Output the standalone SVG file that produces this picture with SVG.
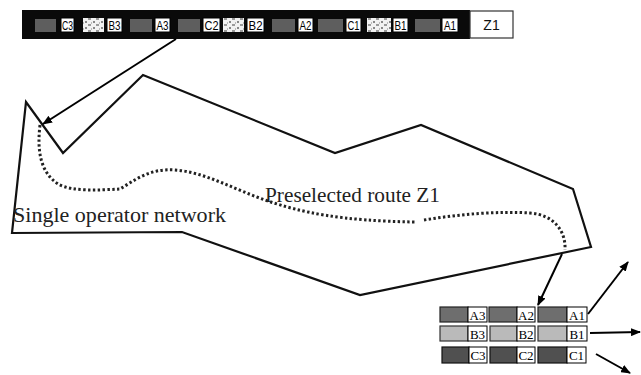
<svg xmlns="http://www.w3.org/2000/svg" width="641" height="375" viewBox="0 0 641 375">
<style>
.lbl{fill:#fff;stroke:#000;stroke-width:1}
.lt{font-family:"Liberation Sans",Arial,sans-serif;font-size:12px;fill:#000;text-anchor:middle}
.gl{font-family:"Liberation Serif","Times New Roman",serif;font-size:13px;fill:#000;text-anchor:middle}
.gb{fill:#5e5e5e}
.noise{fill:url(#spk)}
.ga{fill:#6e6e6e;stroke:#222;stroke-width:1.2}
.gbb{fill:#bababa;stroke:#333;stroke-width:1.2}
.gc{fill:#505050;stroke:#111;stroke-width:1.2}
.conn{stroke:#000;stroke-width:2;fill:none;marker-end:url(#ah)}
.serif{font-family:"Liberation Serif","Times New Roman",serif;fill:#222}
</style>
<defs>
<marker id="ah" markerWidth="10" markerHeight="8" refX="9" refY="4" orient="auto" markerUnits="userSpaceOnUse">
<path d="M0,0 L10,4 L0,8 Z" fill="#000"/>
</marker>
<pattern id="spk" width="8" height="6" patternUnits="userSpaceOnUse">
<rect width="8" height="6" fill="#f2f2f2"/>
<rect x="0" y="0" width="3" height="2" fill="#9a9a9a"/>
<rect x="5" y="3" width="2" height="2" fill="#888"/>
<rect x="3" y="4" width="1" height="2" fill="#bbb"/>
</pattern>
</defs>
<rect width="641" height="375" fill="#fff"/>

<g id="frame-bar">
<rect x="22" y="10" width="448" height="29" fill="#0a0a0a"/>
<rect class="gb" x="35" y="19" width="21" height="13"/>
<rect class="lbl" x="61" y="18" width="13" height="14"/><text class="lt" x="67.5" y="29.5" textLength="11" lengthAdjust="spacingAndGlyphs">C3</text>
<rect class="noise" x="83" y="18" width="21" height="14"/>
<rect class="lbl" x="107" y="18" width="15" height="14"/><text class="lt" x="114.5" y="29.5" textLength="12" lengthAdjust="spacingAndGlyphs">B3</text>
<rect class="gb" x="130" y="19" width="22" height="13"/>
<rect class="lbl" x="155" y="18" width="15" height="14"/><text class="lt" x="162.5" y="29.5" textLength="12" lengthAdjust="spacingAndGlyphs">A3</text>
<rect class="gb" x="178" y="19" width="22" height="13"/>
<rect class="lbl" x="203" y="18" width="17" height="14"/><text class="lt" x="211.5" y="29.5" textLength="14" lengthAdjust="spacingAndGlyphs">C2</text>
<rect class="noise" x="223" y="18" width="21" height="14"/>
<rect class="lbl" x="247" y="18" width="17" height="14"/><text class="lt" x="255.5" y="29.5" textLength="14" lengthAdjust="spacingAndGlyphs">B2</text>
<rect class="gb" x="272" y="19" width="23" height="13"/>
<rect class="lbl" x="298" y="18" width="15" height="14"/><text class="lt" x="305.5" y="29.5" textLength="12" lengthAdjust="spacingAndGlyphs">A2</text>
<rect class="gb" x="318" y="19" width="25" height="13"/>
<rect class="lbl" x="346" y="18" width="15" height="14"/><text class="lt" x="353.5" y="29.5" textLength="12" lengthAdjust="spacingAndGlyphs">C1</text>
<rect class="noise" x="367" y="18" width="24" height="14"/>
<rect class="lbl" x="393" y="18" width="15" height="14"/><text class="lt" x="400.5" y="29.5" textLength="12" lengthAdjust="spacingAndGlyphs">B1</text>
<rect class="gb" x="415" y="19" width="25" height="13"/>
<rect class="lbl" x="442" y="18" width="16" height="14"/><text class="lt" x="450" y="29.5" textLength="12" lengthAdjust="spacingAndGlyphs">A1</text>
</g>

<g id="z1-box">
<rect x="470" y="11" width="43" height="27" fill="#fff" stroke="#333" stroke-width="1.2"/>
<text x="491.5" y="30" font-family="'Liberation Sans',Arial,sans-serif" font-size="14" text-anchor="middle" fill="#111">Z1</text>
</g>

<g id="network">
<polygon points="26,102 63,153 143,75 335,153 421,125 573,189 591,247 360,295 182,232 12,233" fill="none" stroke="#111" stroke-width="2.2" stroke-linejoin="miter"/>
<text class="serif" x="13" y="222" font-size="22" textLength="213" lengthAdjust="spacingAndGlyphs">Single operator network</text>
</g>

<g id="route">
<path d="M40,125 C37,150 40,172 58,184 C72,192 100,190 120,189 C135,180 150,168 175,170 C205,172 235,190 268,201 C300,212 340,221 416,222 M424,220 C460,214 500,211 530,213 C555,215 566,232 565,250" fill="none" stroke="#222" stroke-width="3" stroke-dasharray="2.4 2.4"/>
<text class="serif" x="265" y="202" font-size="21" textLength="175" lengthAdjust="spacingAndGlyphs">Preselected route Z1</text>
</g>

<g id="slot-grid">
<rect class="ga" x="440" y="307" width="28" height="15"/><rect class="lbl" x="468" y="307" width="19" height="15"/><text class="gl" x="477.5" y="319.5">A3</text>
<rect class="ga" x="489" y="307" width="28" height="15"/><rect class="lbl" x="517" y="307" width="18" height="15"/><text class="gl" x="526" y="319.5">A2</text>
<rect class="ga" x="538" y="307" width="29" height="15"/><rect class="lbl" x="567" y="307" width="20" height="15"/><text class="gl" x="577" y="319.5">A1</text>
<rect class="gbb" x="440" y="326" width="28" height="15"/><rect class="lbl" x="468" y="326" width="19" height="15"/><text class="gl" x="477.5" y="338.5">B3</text>
<rect class="gbb" x="490" y="326" width="27" height="15"/><rect class="lbl" x="517" y="326" width="18" height="15"/><text class="gl" x="526" y="338.5">B2</text>
<rect class="gbb" x="538" y="326" width="29" height="15"/><rect class="lbl" x="567" y="326" width="20" height="15"/><text class="gl" x="577" y="338.5">B1</text>
<rect class="gc" x="442" y="347" width="27" height="16"/><rect class="lbl" x="469" y="347" width="18" height="16"/><text class="gl" x="478" y="360">C3</text>
<rect class="gc" x="490" y="347" width="27" height="16"/><rect class="lbl" x="517" y="347" width="18" height="16"/><text class="gl" x="526" y="360">C2</text>
<rect class="gc" x="538" y="347" width="29" height="16"/><rect class="lbl" x="567" y="347" width="19" height="16"/><text class="gl" x="576.5" y="360">C1</text>
</g>

<g id="connectors">
<line class="conn" x1="176" y1="39" x2="43" y2="124"/>
<line class="conn" x1="562" y1="254" x2="538" y2="305"/>
<line class="conn" x1="588" y1="314" x2="628" y2="262"/>
<line class="conn" x1="590" y1="333" x2="640" y2="332"/>
<line class="conn" x1="596" y1="354" x2="630" y2="373"/>
</g>
</svg>
